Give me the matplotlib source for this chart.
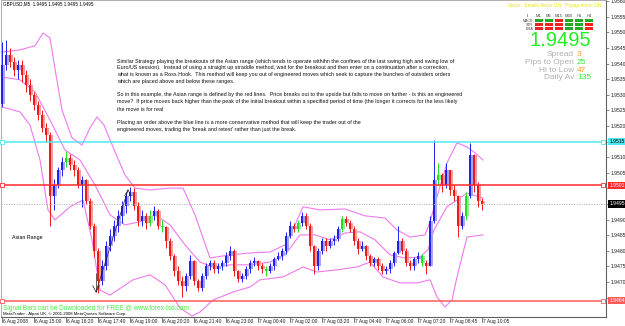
import numpy as np
import matplotlib
matplotlib.use('Agg')
import matplotlib.pyplot as plt
import matplotlib.transforms as mtransforms

plt.rcParams['font.family'] = ['Liberation Sans', 'DejaVu Sans']

# ---------------- data (prices) ----------------
first_open = 1.95270
closes = [1.95397, 1.95429, 1.95406, 1.95381, 1.95394, 1.95365, 1.95332, 1.95300, 1.95268, 1.95235,
          1.95194, 1.95171, 1.94977, 1.95010, 1.95058, 1.95084, 1.95097, 1.95074, 1.95058, 1.95010,
          1.95026, 1.94961, 1.94881, 1.94800, 1.94703, 1.94752, 1.94816, 1.94848, 1.94881, 1.94913,
          1.94945, 1.94977, 1.94987, 1.94945, 1.94897, 1.94913, 1.94890, 1.94913, 1.94929, 1.94881,
          1.94875, 1.94832, 1.94784, 1.94735, 1.94703, 1.94687, 1.94719, 1.94768, 1.94703, 1.94681,
          1.94719, 1.94752, 1.94761, 1.94742, 1.94752, 1.94761, 1.94784, 1.94800, 1.94735, 1.94710,
          1.94719, 1.94742, 1.94761, 1.94766, 1.94752, 1.94742, 1.94735, 1.94752, 1.94774, 1.94784,
          1.94800, 1.94848, 1.94881, 1.94871, 1.94890, 1.94913, 1.94881, 1.94816, 1.94752, 1.94800,
          1.94832, 1.94816, 1.94832, 1.94839, 1.94871, 1.94903, 1.94890, 1.94871, 1.94832, 1.94806,
          1.94816, 1.94784, 1.94761, 1.94774, 1.94752, 1.94735, 1.94742, 1.94761, 1.94794, 1.94832,
          1.94800, 1.94761, 1.94752, 1.94774, 1.94784, 1.94761, 1.94752, 1.94897, 1.95026, 1.95042,
          1.95010, 1.95058, 1.94994, 1.94977, 1.94881, 1.94913, 1.94977, 1.95106, 1.95010, 1.94961,
          1.94950]
highs = [1.95470, 1.95477, 1.95450, 1.95420, 1.95410, 1.95410, 1.95380, 1.95350, 1.95310, 1.95280,
         1.95250, 1.95210, 1.95180, 1.95030, 1.95070, 1.95100, 1.95120, 1.95110, 1.95090, 1.95070,
         1.95040, 1.95030, 1.94970, 1.94890, 1.94810, 1.94770, 1.94830, 1.94870, 1.94900, 1.94930,
         1.94960, 1.94990, 1.95005, 1.95000, 1.94955, 1.94930, 1.94920, 1.94930, 1.94945, 1.94935,
         1.94900, 1.94880, 1.94840, 1.94790, 1.94750, 1.94720, 1.94730, 1.94785, 1.94770, 1.94710,
         1.94730, 1.94760, 1.94770, 1.94770, 1.94760, 1.94770, 1.94795, 1.94815, 1.94805, 1.94740,
         1.94730, 1.94750, 1.94770, 1.94780, 1.94770, 1.94760, 1.94750, 1.94760, 1.94780, 1.94795,
         1.94810, 1.94860, 1.94897, 1.94890, 1.94900, 1.94923, 1.94920, 1.94890, 1.94820, 1.94810,
         1.94840, 1.94840, 1.94840, 1.94850, 1.94880, 1.94910, 1.94910, 1.94900, 1.94880, 1.94840,
         1.94830, 1.94820, 1.94790, 1.94780, 1.94780, 1.94760, 1.94750, 1.94770, 1.94800, 1.94878,
         1.94840, 1.94810, 1.94770, 1.94780, 1.94795, 1.94790, 1.94770, 1.94910, 1.95155, 1.95080,
         1.95050, 1.95080, 1.95060, 1.95010, 1.94980, 1.94925, 1.94990, 1.95145, 1.95110, 1.95020,
         1.94970]
lows = [1.95260, 1.95380, 1.95390, 1.95360, 1.95350, 1.95340, 1.95310, 1.95280, 1.95250, 1.95220,
        1.95180, 1.95150, 1.94880, 1.94930, 1.95000, 1.95040, 1.95070, 1.95060, 1.95040, 1.95000,
        1.94940, 1.94950, 1.94870, 1.94780, 1.94664, 1.94690, 1.94740, 1.94800, 1.94830, 1.94860,
        1.94890, 1.94920, 1.94960, 1.94930, 1.94880, 1.94880, 1.94870, 1.94880, 1.94900, 1.94870,
        1.94860, 1.94810, 1.94770, 1.94720, 1.94690, 1.94652, 1.94670, 1.94710, 1.94690, 1.94670,
        1.94670, 1.94710, 1.94740, 1.94730, 1.94730, 1.94740, 1.94750, 1.94770, 1.94720, 1.94700,
        1.94700, 1.94710, 1.94730, 1.94750, 1.94740, 1.94730, 1.94720, 1.94730, 1.94740, 1.94770,
        1.94770, 1.94790, 1.94840, 1.94860, 1.94860, 1.94880, 1.94870, 1.94800, 1.94725, 1.94740,
        1.94790, 1.94800, 1.94810, 1.94820, 1.94830, 1.94860, 1.94880, 1.94860, 1.94820, 1.94790,
        1.94800, 1.94770, 1.94750, 1.94750, 1.94740, 1.94725, 1.94725, 1.94730, 1.94750, 1.94790,
        1.94790, 1.94750, 1.94740, 1.94740, 1.94760, 1.94750, 1.94725, 1.94750, 1.94890, 1.95010,
        1.94990, 1.95000, 1.94980, 1.94960, 1.94845, 1.94870, 1.94900, 1.94970, 1.94990, 1.94940,
        1.94930]
green_bars = [16, 37, 40, 66, 74, 85, 105, 109, 116]

# Bollinger bands: (bar index, price)
upper_x = [0, 4.5, 8.25, 10.25, 12, 13.5, 15, 17.5, 20, 22, 23.75, 25.5, 28.25, 30.75, 33.25, 37, 42, 45.25,
           48.25, 52, 57, 62, 67, 70.75, 73.25, 75.25, 79.5, 85.75, 90.75, 95.75, 98.75, 102, 105.75, 107,
           108.75, 111.25, 113.75, 116.25, 118.25, 120.25]
upper_y = [1.95437, 1.95444, 1.95457, 1.95498, 1.95482, 1.95364, 1.95251, 1.95162, 1.95139, 1.95194,
           1.95229, 1.95203, 1.95117, 1.95043, 1.95001, 1.94995, 1.95001, 1.95001, 1.94915, 1.94777,
           1.94787, 1.94793, 1.94796, 1.94819, 1.94883, 1.94941, 1.94931, 1.94934, 1.94912, 1.94905,
           1.94867, 1.94844, 1.94851, 1.94893, 1.94973, 1.95082, 1.95146, 1.95133, 1.95114, 1.95091]
mid_x = [0, 4.5, 8.25, 12, 15.75, 19.5, 23.25, 27, 30.75, 34.5, 38.25, 42, 45.75, 49.5, 53.25, 57, 62, 67,
         70.75, 74.5, 78.25, 82, 85.75, 89.5, 93.25, 97, 100.75, 104.5, 106.5, 108, 111.25, 116.25, 120.25]
mid_y = [1.95357, 1.95348, 1.95309, 1.95219, 1.95123, 1.95091, 1.95011, 1.94915, 1.94883, 1.94893,
         1.94915, 1.94883, 1.94819, 1.94764, 1.94745, 1.94755, 1.94755, 1.94764, 1.94787, 1.94851,
         1.94851, 1.94835, 1.94857, 1.94861, 1.94835, 1.94787, 1.94777, 1.94780, 1.94803, 1.94867,
         1.94941, 1.94985, 1.94969]
lower_x = [0, 4.5, 7, 9.5, 11.5, 13.25, 17, 20.25, 22.5, 24.5, 27, 32.75, 37, 40.75, 44.5, 47.5, 49.5,
           52.75, 57.75, 62, 64.5, 70.25, 75.25, 78.75, 83.75, 88.75, 92, 95.25, 99.5, 103.75, 107, 108.75,
           110.75, 112.5, 113.75, 116.25, 120.25]
lower_y = [1.95261, 1.95245, 1.95203, 1.95091, 1.94931, 1.94899, 1.94941, 1.94963, 1.94835, 1.94674,
           1.94658, 1.94707, 1.94723, 1.94691, 1.94617, 1.94591, 1.94604, 1.94642, 1.94668, 1.94684,
           1.94707, 1.94716, 1.94748, 1.94732, 1.94739, 1.94748, 1.94764, 1.94716, 1.94697, 1.94697,
           1.94707, 1.94652, 1.94620, 1.94642, 1.94716, 1.94844, 1.94851]

# horizontal lines: price, colour, label colour
hlines = [(1.9515, '#4fe8f0', '#000000'), (1.9501, '#ff2a2a', '#ffffff'), (1.9464, '#ff5a5a', '#ffffff')]
last_price = 1.9495

# trend line drawn on the chart (bar index, price)
tl_x = [23.5, 31.5]
tl_y = [1.94668, 1.94995]

ytick_vals = np.arange(1.9465, 1.95601, 0.0005)
xtick_idx = np.arange(0, 121, 8)
xtick_labels = ['6 Aug 2008', '6 Aug 15:00', '6 Aug 16:20', '6 Aug 17:40', '6 Aug 19:00', '6 Aug 20:20',
                '6 Aug 21:40', '6 Aug 23:00', '7 Aug 00:40', '7 Aug 02:00', '7 Aug 03:20', '7 Aug 04:40',
                '7 Aug 06:00', '7 Aug 07:20', '7 Aug 08:45', '7 Aug 10:05']

tfs = ['M1', 'M5', 'M15', 'M30', 'H1', 'H4']
rows = ['MACD', 'STR', 'EMA']
sig = [[1, 1, 0, 1, 1, 1],
       [0, 0, 0, 1, 1, 0],
       [0, 0, 0, 1, 1, 0]]

stats = [('Spread', '3', '#ff9933'), ('Pips to Open', '25', '#33ee33'),
         ('Hi to Low', '47', '#ff9933'), ('Daily Av', '135', '#33ee33')]

paragraph = [
    "Similar Strategy playing the breakouts of the Asian range (which tends to operate withihn the confines of the last swing high and swing low of",
    "Euro/US session).  Instead of using a straight up straddle method, wait for the breakout and then enter on a continuation after a correction,",
    "what is known as a Ross Hook.  This method will keep you out of engineered moves which seek to capture the bunches of outsiders orders",
    "which are placed above and below these ranges.",
    "So in this example, the Asian range is defined by the red lines.  Price breaks out to the upside but fails to move on further - is this an engineered",
    "move?  If price moves back higher than the peak of the initial breakout within a specified period of time (the longer it corrects for the less likely",
    "the move is for real",
    "Placing an order above the blue line is a more conservative method that will keep the trader out of the",
    "engineered moves, trading the 'break and retest' rather than just the break.",
]
para_y = [61, 67.8, 74.6, 81.5, 94.5, 101.7, 109, 122.7, 130]

# ---------------- figure ----------------
W, H = 625, 326
fig = plt.figure(figsize=(W / 100, H / 100), dpi=100)
ax = fig.add_axes([1 / W, 9 / H, 605 / W, 317 / H])
ax.set_xlim(-0.25, 151.0)
ax.set_ylim(1.945878, 1.956038)

for s in ['top', 'left']:
    ax.spines[s].set_color('#a0a0a0')
    ax.spines[s].set_linewidth(0.6)
for s in ['right', 'bottom']:
    ax.spines[s].set_color('#606060')
    ax.spines[s].set_linewidth(0.8)

n = len(closes)
opens = [first_open] + closes[:-1]

# bands
band_col = '#ee7aee'
ax.plot(upper_x, upper_y, color=band_col, lw=0.8, zorder=2)
ax.plot(mid_x, mid_y, color=band_col, lw=0.8, zorder=2)
ax.plot(lower_x, lower_y, color=band_col, lw=0.8, zorder=2)

# candles
for i in range(n):
    o, c, h, l = opens[i], closes[i], highs[i], lows[i]
    up = c >= o
    if i in green_bars:
        dark, light = '#22dd22', '#99ee99'
    elif up:
        dark, light = '#2020f0', '#a8a8f8'
    else:
        dark, light = '#f01818', '#f8a0a0'
    lo_b, hi_b = min(o, c), max(o, c)
    if hi_b - lo_b < 0.00003:
        hi_b = lo_b + 0.00003
    ax.bar(i + 0.35, hi_b - lo_b, bottom=lo_b, width=0.9, color=light, zorder=3, linewidth=0)
    ax.vlines(i, l, h, color=dark, lw=0.7, zorder=4)
    ax.bar(i, hi_b - lo_b, bottom=lo_b, width=0.65, color=dark, zorder=4, linewidth=0)

# horizontal lines
for price, col, tcol in hlines:
    ax.axhline(price, color=col, lw=1.1, zorder=5)
    ax.plot([0.05, 150.3], [price, price], ls='none', marker='s', ms=2.2, mfc='white', mec=col,
            mew=0.6, zorder=6, clip_on=False)
ax.axhline(last_price, color='#b0b0b0', lw=0.6, ls=(0, (1.5, 1.5)), zorder=5)

# trend line
ax.plot(tl_x, tl_y, color='#202020', lw=0.5, zorder=6)
ax.plot([tl_x[1] - 0.8, tl_x[1], tl_x[1] + 0.8], [tl_y[1] - 0.00018, tl_y[1], tl_y[1] - 0.00018],
        color='#202020', lw=0.5, zorder=6)
ax.plot([tl_x[0] - 0.8, tl_x[0], tl_x[0] + 0.8], [tl_y[0] + 0.0002, tl_y[0], tl_y[0] + 0.0002],
        color='#202020', lw=0.5, zorder=6)
ax.vlines(tl_x[0], tl_y[0], tl_y[0] + 0.0006, color='#202020', lw=0.5, zorder=6)

# y axis on right; labels hidden where a price box sits
box_prices = [p for p, _, _ in hlines] + [last_price]
ax.yaxis.tick_right()
ax.set_yticks(ytick_vals)
ax.set_yticklabels(['' if min(abs(v - p) for p in box_prices) < 0.00015 else '%.4f' % v
                    for v in ytick_vals], fontsize=3.6, color='#202020')
ax.tick_params(axis='y', length=2, width=0.5, color='#606060', pad=1.5)
ax.set_xticks([])

ylab = mtransforms.blended_transform_factory(ax.transAxes, ax.transData)
for price, col, tcol in hlines + [(last_price, '#000000', '#ffffff')]:
    ax.text(1.006, price, '%.4f' % price, transform=ylab, fontsize=3.6, color=tcol, va='center',
            ha='left', zorder=10, clip_on=False,
            bbox=dict(boxstyle='square,pad=0.25', fc=col, ec='none'))

# x labels
xlab = mtransforms.blended_transform_factory(ax.transData, fig.transFigure)
for k, lab in zip(xtick_idx, xtick_labels):
    ax.plot([k, k], [(H - 317) / H, (H - 322) / H], transform=xlab, color='#404040',
            lw=0.5, clip_on=False)
    fig.text(k + 0.3, (H - 322) / H, lab, transform=xlab, fontsize=3.5, color='#202020',
             va='center', ha='left')

# header text
fig.text(3 / W, 1 - 4 / H, 'GBPUSD,M5  1.9495 1.9495 1.9495 1.9495', fontsize=3.3, color='#000000',
         va='center', ha='left')

# paragraph
for yy, line in zip(para_y, paragraph):
    fig.text(117 / W, 1 - yy / H, line, fontsize=3.83, color='#101010', va='center', ha='left')

fig.text(12 / W, 1 - 238 / H, 'Asian Range', fontsize=3.8, color='#000000', va='center', ha='left')
fig.text(3 / W, 1 - 308 / H, 'Signal Bars can be Downloaded for FREE @ www.forex-tsd.com', fontsize=4.7,
         color='#44ee44', va='center', ha='left')
fig.text(3 / W, 1 - 313.5 / H, 'MetaTrader - Alpari UK, \u00a9 2001-2008 MetaQuotes Software Corp.',
         fontsize=3.1, color='#000000', va='center', ha='left')

# top-right panel
fig.text(601 / W, 1 - 6 / H, 'Alerts:  Emails Alerts ON,  Popup Alerts ON', fontsize=3.4, color='#e8e800',
         va='center', ha='right')
col_x = [539, 549, 559, 569, 579, 589]
for j, tf in enumerate(tfs):
    fig.text(col_x[j] / W, 1 - 16 / H, tf, fontsize=3.0, color='#404040', va='center', ha='center')
    for r in range(3):
        yy = 19 + 4 * r
        c = '#22aa22' if sig[r][j] else '#ee2222'
        fig.patches.append(plt.Rectangle(((col_x[j] - 4) / W, 1 - (yy + 3) / H), 8 / W, 3 / H,
                                         transform=fig.transFigure, fc=c, ec='none'))
for r, name in enumerate(rows):
    fig.text(533 / W, 1 - (20.5 + 4 * r) / H, name, fontsize=2.6, color='#404040', va='center', ha='right')
fig.text(529 / W, 1 - 16 / H, 'tf', fontsize=2.6, color='#404040', va='center', ha='right')

fig.text(591 / W, 1 - 40 / H, '1.9495', fontsize=14.5, color='#22ee22', va='center', ha='right')
for k, (lab, val, vcol) in enumerate(stats):
    yy = 1 - (55 + 7.5 * k) / H
    fig.text(574 / W, yy, lab, fontsize=6, color='#b0b0b0', va='center', ha='right')
    fig.text(577 / W, yy, val, fontsize=6, color=vcol, va='center', ha='left')

fig.savefig('out.png', dpi=100, facecolor='white')
